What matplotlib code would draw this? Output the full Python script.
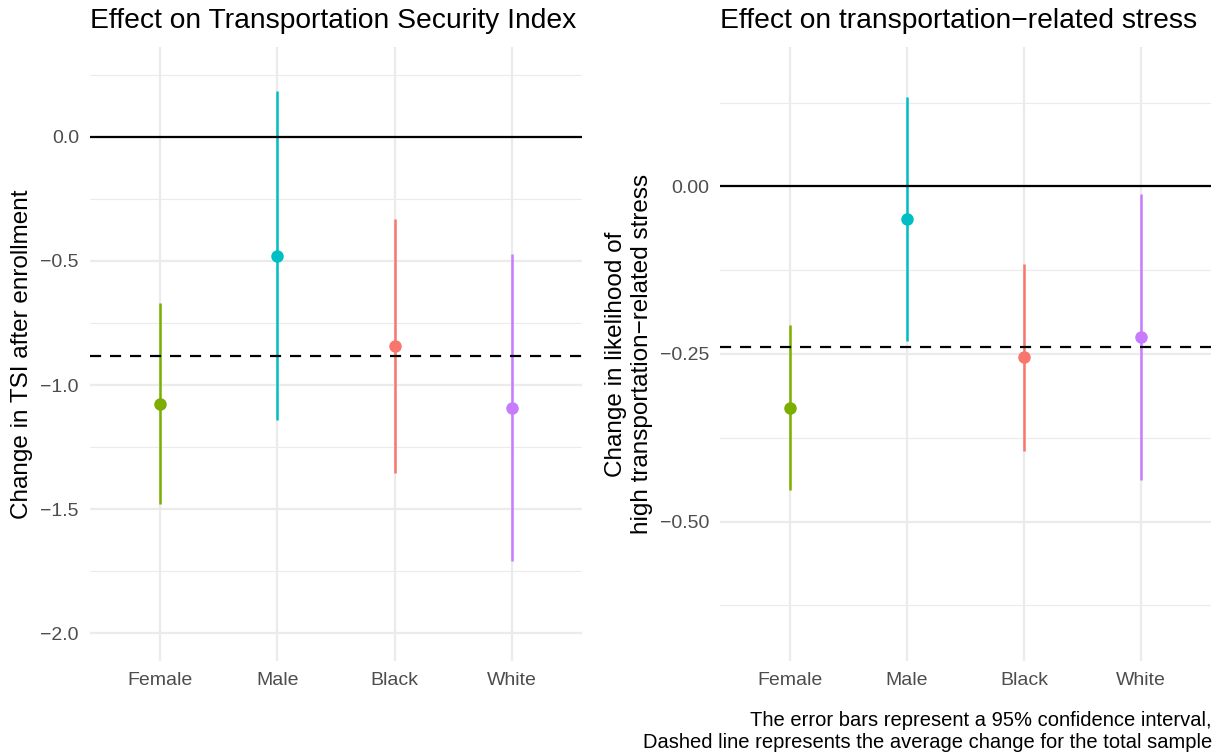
import matplotlib
matplotlib.use("Agg")
import matplotlib.pyplot as plt
from matplotlib.ticker import FixedLocator

plt.rcParams['font.family'] = ['Liberation Sans', 'DejaVu Sans']

# groups and their colours (ggplot hue palette)
groups = ["Female", "Male", "Black", "White"]
colors = ["#7CAE00", "#00BFC4", "#F8766D", "#C77CFF"]

# Transportation Security Index: estimate and 95% CI
tsi_est = [-1.075, -0.481, -0.844, -1.092]
tsi_low = [-1.480, -1.143, -1.355, -1.710]
tsi_high = [-0.670, 0.186, -0.329, -0.470]
tsi_avg = -0.883

# transportation-related stress: estimate and 95% CI
stress_est = [-0.331, -0.049, -0.255, -0.225]
stress_low = [-0.453, -0.231, -0.394, -0.438]
stress_high = [-0.207, 0.133, -0.115, -0.012]
stress_avg = -0.239

GRID = "#EBEBEB"
TICK = "#4D4D4D"


def draw_panel(ax, est, low, high, avg, title, ylabel, major, minor, ylim):
    x = list(range(len(groups)))
    ax.set_xlim(-0.6, len(groups) - 0.4)
    ax.set_ylim(*ylim)
    for s in ax.spines.values():
        s.set_visible(False)
    ax.yaxis.set_major_locator(FixedLocator(major))
    ax.yaxis.set_minor_locator(FixedLocator(minor))
    ax.set_xticks(x)
    ax.set_xticklabels(groups)
    ax.grid(True, which="major", color=GRID, linewidth=1.6, zorder=0)
    ax.grid(True, which="minor", axis="y", color=GRID, linewidth=0.8, zorder=0)
    ax.tick_params(which="both", length=0, labelsize=14, labelcolor=TICK, pad=8)
    ax.set_axisbelow(True)

    for i in x:
        ax.vlines(i, low[i], high[i], color=colors[i], linewidth=1.8, zorder=3)
        ax.plot(i, est[i], "o", color=colors[i], markersize=8, zorder=4)

    ax.axhline(0, color="black", linewidth=1.6, zorder=5)
    ax.axhline(avg, color="black", linewidth=1.6, linestyle=(0, (5, 4)), zorder=5)

    ax.set_title(title, loc="left", fontsize=20.3, pad=14)
    ax.set_ylabel(ylabel, fontsize=17.5, labelpad=5)


fig = plt.figure(figsize=(12.25, 7.55), dpi=100)
ax1 = fig.add_axes([90 / 1225, 94 / 755, 492 / 1225, 614 / 755])
ax2 = fig.add_axes([720 / 1225, 94 / 755, 491 / 1225, 614 / 755])

draw_panel(ax1, tsi_est, tsi_low, tsi_high, tsi_avg,
           "Effect on Transportation Security Index",
           "Change in TSI after enrollment",
           [-2.0, -1.5, -1.0, -0.5, 0.0],
           [-1.75, -1.25, -0.75, -0.25, 0.25],
           (-2.1125, 0.3625))
ax1.yaxis.set_major_formatter(plt.FuncFormatter(lambda v, p: f"{v:.1f}".replace("-", "\u2212")))

draw_panel(ax2, stress_est, stress_low, stress_high, stress_avg,
           "Effect on transportation\u2212related stress",
           "Change in likelihood of\nhigh transportation\u2212related stress",
           [-0.5, -0.25, 0.0],
           [-0.625, -0.375, -0.125, 0.125],
           (-0.708, 0.208))
ax2.yaxis.set_major_formatter(plt.FuncFormatter(lambda v, p: f"{v:.2f}".replace("-", "\u2212")))

fig.text(1212 / 1225, 1 - 731 / 755,
         "The error bars represent a 95% confidence interval,\n"
         "Dashed line represents the average change for the total sample",
         ha="right", va="center", fontsize=14.5, linespacing=1.2)

fig.savefig("out.png", dpi=100)
